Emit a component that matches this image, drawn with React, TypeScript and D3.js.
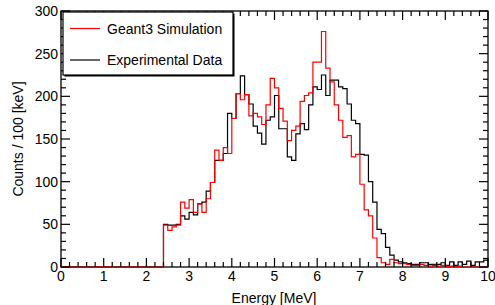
import React, { useRef, useEffect } from 'react';
import * as d3 from 'd3';

// Histogram bins: 0 - 10 MeV, 100 keV wide
const binLow = 0;
const binHigh = 10;
const binCount = 100;

// Geant3 simulation, counts per 100 keV bin
const simCounts = [
  0, 0, 0, 0, 0, 0, 0, 0, 0, 0,
  0, 0, 0, 0, 0, 0, 0, 0, 0, 0,
  0, 0, 0, 0, 49, 43, 47, 49, 76, 69,
  79, 64, 74, 64, 80, 99, 137, 125, 140, 133,
  174, 203, 196, 202, 177, 180, 176, 167, 190, 221,
  210, 186, 171, 148, 160, 165, 194, 201, 204, 240,
  240, 276, 233, 217, 190, 172, 152, 154, 129, 132,
  97, 67, 60, 34, 11, 5, 3, 9, 5, 4,
  4, 3, 2, 2, 3, 2, 1, 2, 1, 2,
  1, 1, 0, 1, 0, 0, 0, 0, 0, 0,
];

// Experimental data, counts per 100 keV bin
const dataCounts = [
  0, 0, 0, 0, 0, 0, 0, 0, 0, 0,
  0, 0, 0, 0, 0, 0, 0, 0, 0, 0,
  0, 0, 0, 0, 50, 49, 49, 50, 60, 56,
  64, 61, 74, 76, 89, 99, 125, 125, 133, 180,
  174, 203, 224, 202, 191, 165, 157, 144, 172, 176,
  201, 162, 162, 129, 125, 156, 168, 161, 190, 211,
  208, 225, 201, 219, 219, 211, 209, 191, 172, 168,
  132, 131, 100, 76, 44, 39, 23, 14, 8, 6,
  5, 4, 3, 3, 5, 5, 3, 3, 3, 5,
  2, 6, 2, 6, 3, 7, 2, 6, 6, 8,
];

const xTicks = [0, 1, 2, 3, 4, 5, 6, 7, 8, 9, 10];
const yTicks = [0, 50, 100, 150, 200, 250, 300];

const seriesNames = ['Geant3 Simulation', 'Experimental Data'];

const App = () => {
  const svgRef = useRef<SVGSVGElement>(null);
  const width = 495;
  const height = 305;

  useEffect(() => {
    if (!svgRef.current) return;
    const svg = d3.select(svgRef.current);
    svg.selectAll('*').remove();

    const left = 61, right = 488, top = 11, bottom = 267;
    const font = '"Liberation Sans", Arial, Helvetica, sans-serif';

    const x = d3.scaleLinear().domain([binLow, binHigh]).range([left, right]);
    const y = d3.scaleLinear().domain([0, 300]).range([bottom, top]);
    const binW = (binHigh - binLow) / binCount;

    // plot frame
    svg.append('rect')
      .attr('x', left).attr('y', top)
      .attr('width', right - left).attr('height', bottom - top)
      .attr('fill', '#fff')
      .attr('stroke', '#000')
      .attr('stroke-width', 1.3);

    // histograms as step lines
    const stepLine = d3.line<[number, number]>()
      .x((d) => x(d[0]))
      .y((d) => y(d[1]))
      .curve(d3.curveStepAfter);

    const toPoints = (counts: number[]) => {
      const pts: [number, number][] = counts.map((c, i) => [binLow + i * binW, c]);
      pts.push([binHigh, counts[counts.length - 1]]);
      return pts;
    };

    svg.append('path')
      .attr('d', stepLine(toPoints(dataCounts)))
      .attr('fill', 'none')
      .attr('stroke', '#000')
      .attr('stroke-width', 1.2);

    svg.append('path')
      .attr('d', stepLine(toPoints(simCounts)))
      .attr('fill', 'none')
      .attr('stroke', '#ff0000')
      .attr('stroke-width', 1.2);

    // tick marks on all four sides (ROOT style)
    const ticks = svg.append('g').attr('stroke', '#000').attr('stroke-width', 1.2);
    for (let v = 0; v <= 10.0001; v += 0.2) {
      const major = Math.abs(v - Math.round(v)) < 1e-6;
      const len = major ? 9 : 5;
      const px = x(v);
      ticks.append('line').attr('x1', px).attr('x2', px).attr('y1', bottom).attr('y2', bottom - len);
      ticks.append('line').attr('x1', px).attr('x2', px).attr('y1', top).attr('y2', top + len);
    }
    for (let v = 0; v <= 300; v += 10) {
      const len = v % 50 === 0 ? 9 : 5;
      const py = y(v);
      ticks.append('line').attr('x1', left).attr('x2', left + len).attr('y1', py).attr('y2', py);
      ticks.append('line').attr('x1', right).attr('x2', right - len).attr('y1', py).attr('y2', py);
    }

    // tick labels
    svg.append('g')
      .selectAll('text')
      .data(xTicks)
      .enter()
      .append('text')
      .attr('x', (d) => x(d))
      .attr('y', bottom + 14)
      .attr('text-anchor', 'middle')
      .style('font-family', font)
      .style('font-size', '14px')
      .attr('fill', '#000')
      .text((d) => d);

    svg.append('g')
      .selectAll('text')
      .data(yTicks)
      .enter()
      .append('text')
      .attr('x', left - 3)
      .attr('y', (d) => y(d) + 5)
      .attr('text-anchor', 'end')
      .style('font-family', font)
      .style('font-size', '14px')
      .attr('fill', '#000')
      .text((d) => d);

    // axis titles
    svg.append('text')
      .attr('x', 274)
      .attr('y', 303)
      .attr('text-anchor', 'middle')
      .style('font-family', font)
      .style('font-size', '14px')
      .text('Energy [MeV]');

    svg.append('text')
      .attr('transform', `translate(23,${(top + bottom) / 2}) rotate(-90)`)
      .attr('text-anchor', 'middle')
      .style('font-family', font)
      .style('font-size', '14px')
      .text('Counts / 100 [keV]');

    // legend
    const lg = svg.append('g');
    lg.append('rect')
      .attr('x', 64.5).attr('y', 13.5)
      .attr('width', 170).attr('height', 63)
      .attr('fill', '#000');
    lg.append('rect')
      .attr('x', 63).attr('y', 12)
      .attr('width', 170).attr('height', 63)
      .attr('fill', '#fff')
      .attr('stroke', '#000')
      .attr('stroke-width', 1.2);
    const legendColors = ['#ff0000', '#000'];
    seriesNames.forEach((name, i) => {
      const ly = 28.5 + i * 31.5;
      lg.append('line')
        .attr('x1', 70).attr('x2', 100)
        .attr('y1', ly).attr('y2', ly)
        .attr('stroke', legendColors[i])
        .attr('stroke-width', 1.2);
      lg.append('text')
        .attr('x', 107)
        .attr('y', ly + 5)
        .style('font-family', font)
        .style('font-size', '14px')
        .attr('fill', '#000')
        .text(name);
    });

    return () => {
      svg.selectAll('*').remove();
    };
  }, []);

  return (
    <svg
      ref={svgRef}
      width={width}
      height={height}
      style={{ position: 'absolute', left: 0, top: 0, background: '#fff', display: 'block' }}
    />
  );
};

export default App;
